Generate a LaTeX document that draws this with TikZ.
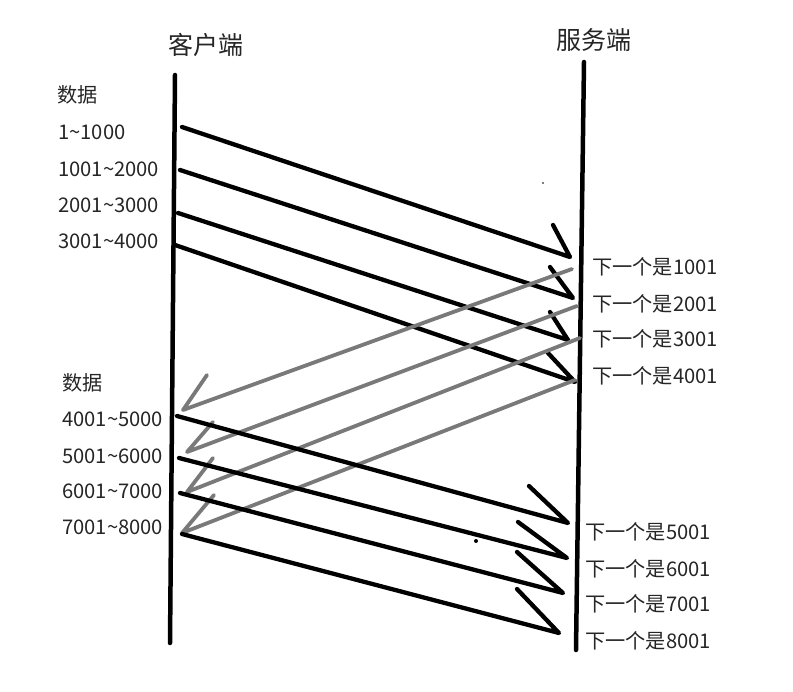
\documentclass[tikz,border=0pt]{standalone}
\usepackage{fontspec}
\setmainfont{Noto Sans CJK SC}
\begin{document}
\begin{tikzpicture}[x=1pt,y=-1pt,
  lbl/.style={anchor=west,inner sep=0pt,font=\fontsize{20.2}{20}\selectfont,text=black!85},
  ttl/.style={inner sep=0pt,font=\fontsize{25}{25}\selectfont,text=black!85},
  life/.style={line width=4.5pt,line cap=round,black},
  msg/.style={line width=4.3pt,line cap=round,line join=round,black},
  ack/.style={line width=3.8pt,line cap=round,line join=round,gray!95!black}]
\useasboundingbox (0,0) rectangle (793,692);
\fill[white] (0,0) rectangle (793,692);
% titles
\node[ttl] (tc) at (206,45) {客户端};
\node[ttl] (ts) at (594,40) {服务端};
% lifelines
\coordinate (c1) at (175,75); \coordinate (c2) at (170,643);
\coordinate (s1) at (584,62); \coordinate (s2) at (576,650);
\draw[life] (c1) -- (c2);
\draw[life] (s1) -- (s2);
% left labels
\node[lbl] (d1) at (57,95) {数据};
\node[lbl] (l1) at (58,132) {1\textasciitilde1000};
\node[lbl] (l2) at (58,169) {1001\textasciitilde2000};
\node[lbl] (l3) at (58,205) {2001\textasciitilde3000};
\node[lbl] (l4) at (58,241) {3001\textasciitilde4000};
\node[lbl] (d2) at (62,383) {数据};
\node[lbl] (l5) at (62,419) {4001\textasciitilde5000};
\node[lbl] (l6) at (62,456) {5001\textasciitilde6000};
\node[lbl] (l7) at (62,491) {6001\textasciitilde7000};
\node[lbl] (l8) at (62,527) {7001\textasciitilde8000};
% right labels
\node[lbl] (r1) at (592,267) {下一个是1001};
\node[lbl] (r2) at (592,304) {下一个是2001};
\node[lbl] (r3) at (592,339) {下一个是3001};
\node[lbl] (r4) at (592,376) {下一个是4001};
\node[lbl] (r5) at (585,532) {下一个是5001};
\node[lbl] (r6) at (585,569) {下一个是6001};
\node[lbl] (r7) at (585,604) {下一个是7001};
\node[lbl] (r8) at (585,641) {下一个是8001};
% data messages group 1
\coordinate (a1s) at (182,127); \coordinate (a1e) at (570,257); \coordinate (a1b) at (553,225);
\coordinate (a2s) at (180,170); \coordinate (a2e) at (573,298); \coordinate (a2b) at (550,267);
\coordinate (a3s) at (178,213); \coordinate (a3e) at (568,340); \coordinate (a3b) at (550,312);
\coordinate (a4s) at (175,245); \coordinate (a4e) at (575,382); \coordinate (a4b) at (548,353);
% acks
\coordinate (g1s) at (572,269); \coordinate (g1e) at (183,410); \coordinate (g1b) at (207,375);
\coordinate (g2s) at (577,306); \coordinate (g2e) at (187,452); \coordinate (g2b) at (213,422);
\coordinate (g3s) at (580,338); \coordinate (g3e) at (187,492); \coordinate (g3b) at (213,458);
\coordinate (g4s) at (575,380); \coordinate (g4e) at (182,533); \coordinate (g4b) at (214,495);
% data messages group 2
\coordinate (a5s) at (177,416); \coordinate (a5e) at (568,523); \coordinate (a5b) at (529,486);
\coordinate (a6s) at (179,458); \coordinate (a6e) at (567,558); \coordinate (a6b) at (518,522);
\coordinate (a7s) at (180,493); \coordinate (a7e) at (563,593); \coordinate (a7b) at (517,552);
\coordinate (a8s) at (182,534); \coordinate (a8e) at (559,633); \coordinate (a8b) at (517,589);
\foreach \i in {1,2,3,4}{\draw[msg] (a\i s) -- (a\i e) -- (a\i b);}
\foreach \i in {1,2,3,4}{\draw[ack] (g\i s) -- (g\i e) -- (g\i b);}
\foreach \i in {5,6,7,8}{\draw[msg] (a\i s) -- (a\i e) -- (a\i b);}
% stray dots
\coordinate (dot1) at (543,183); \coordinate (dot2) at (476,541);
\fill[black] (dot1) circle (0.8);
\fill[black] (dot2) circle (2);
\end{tikzpicture}
\end{document}
